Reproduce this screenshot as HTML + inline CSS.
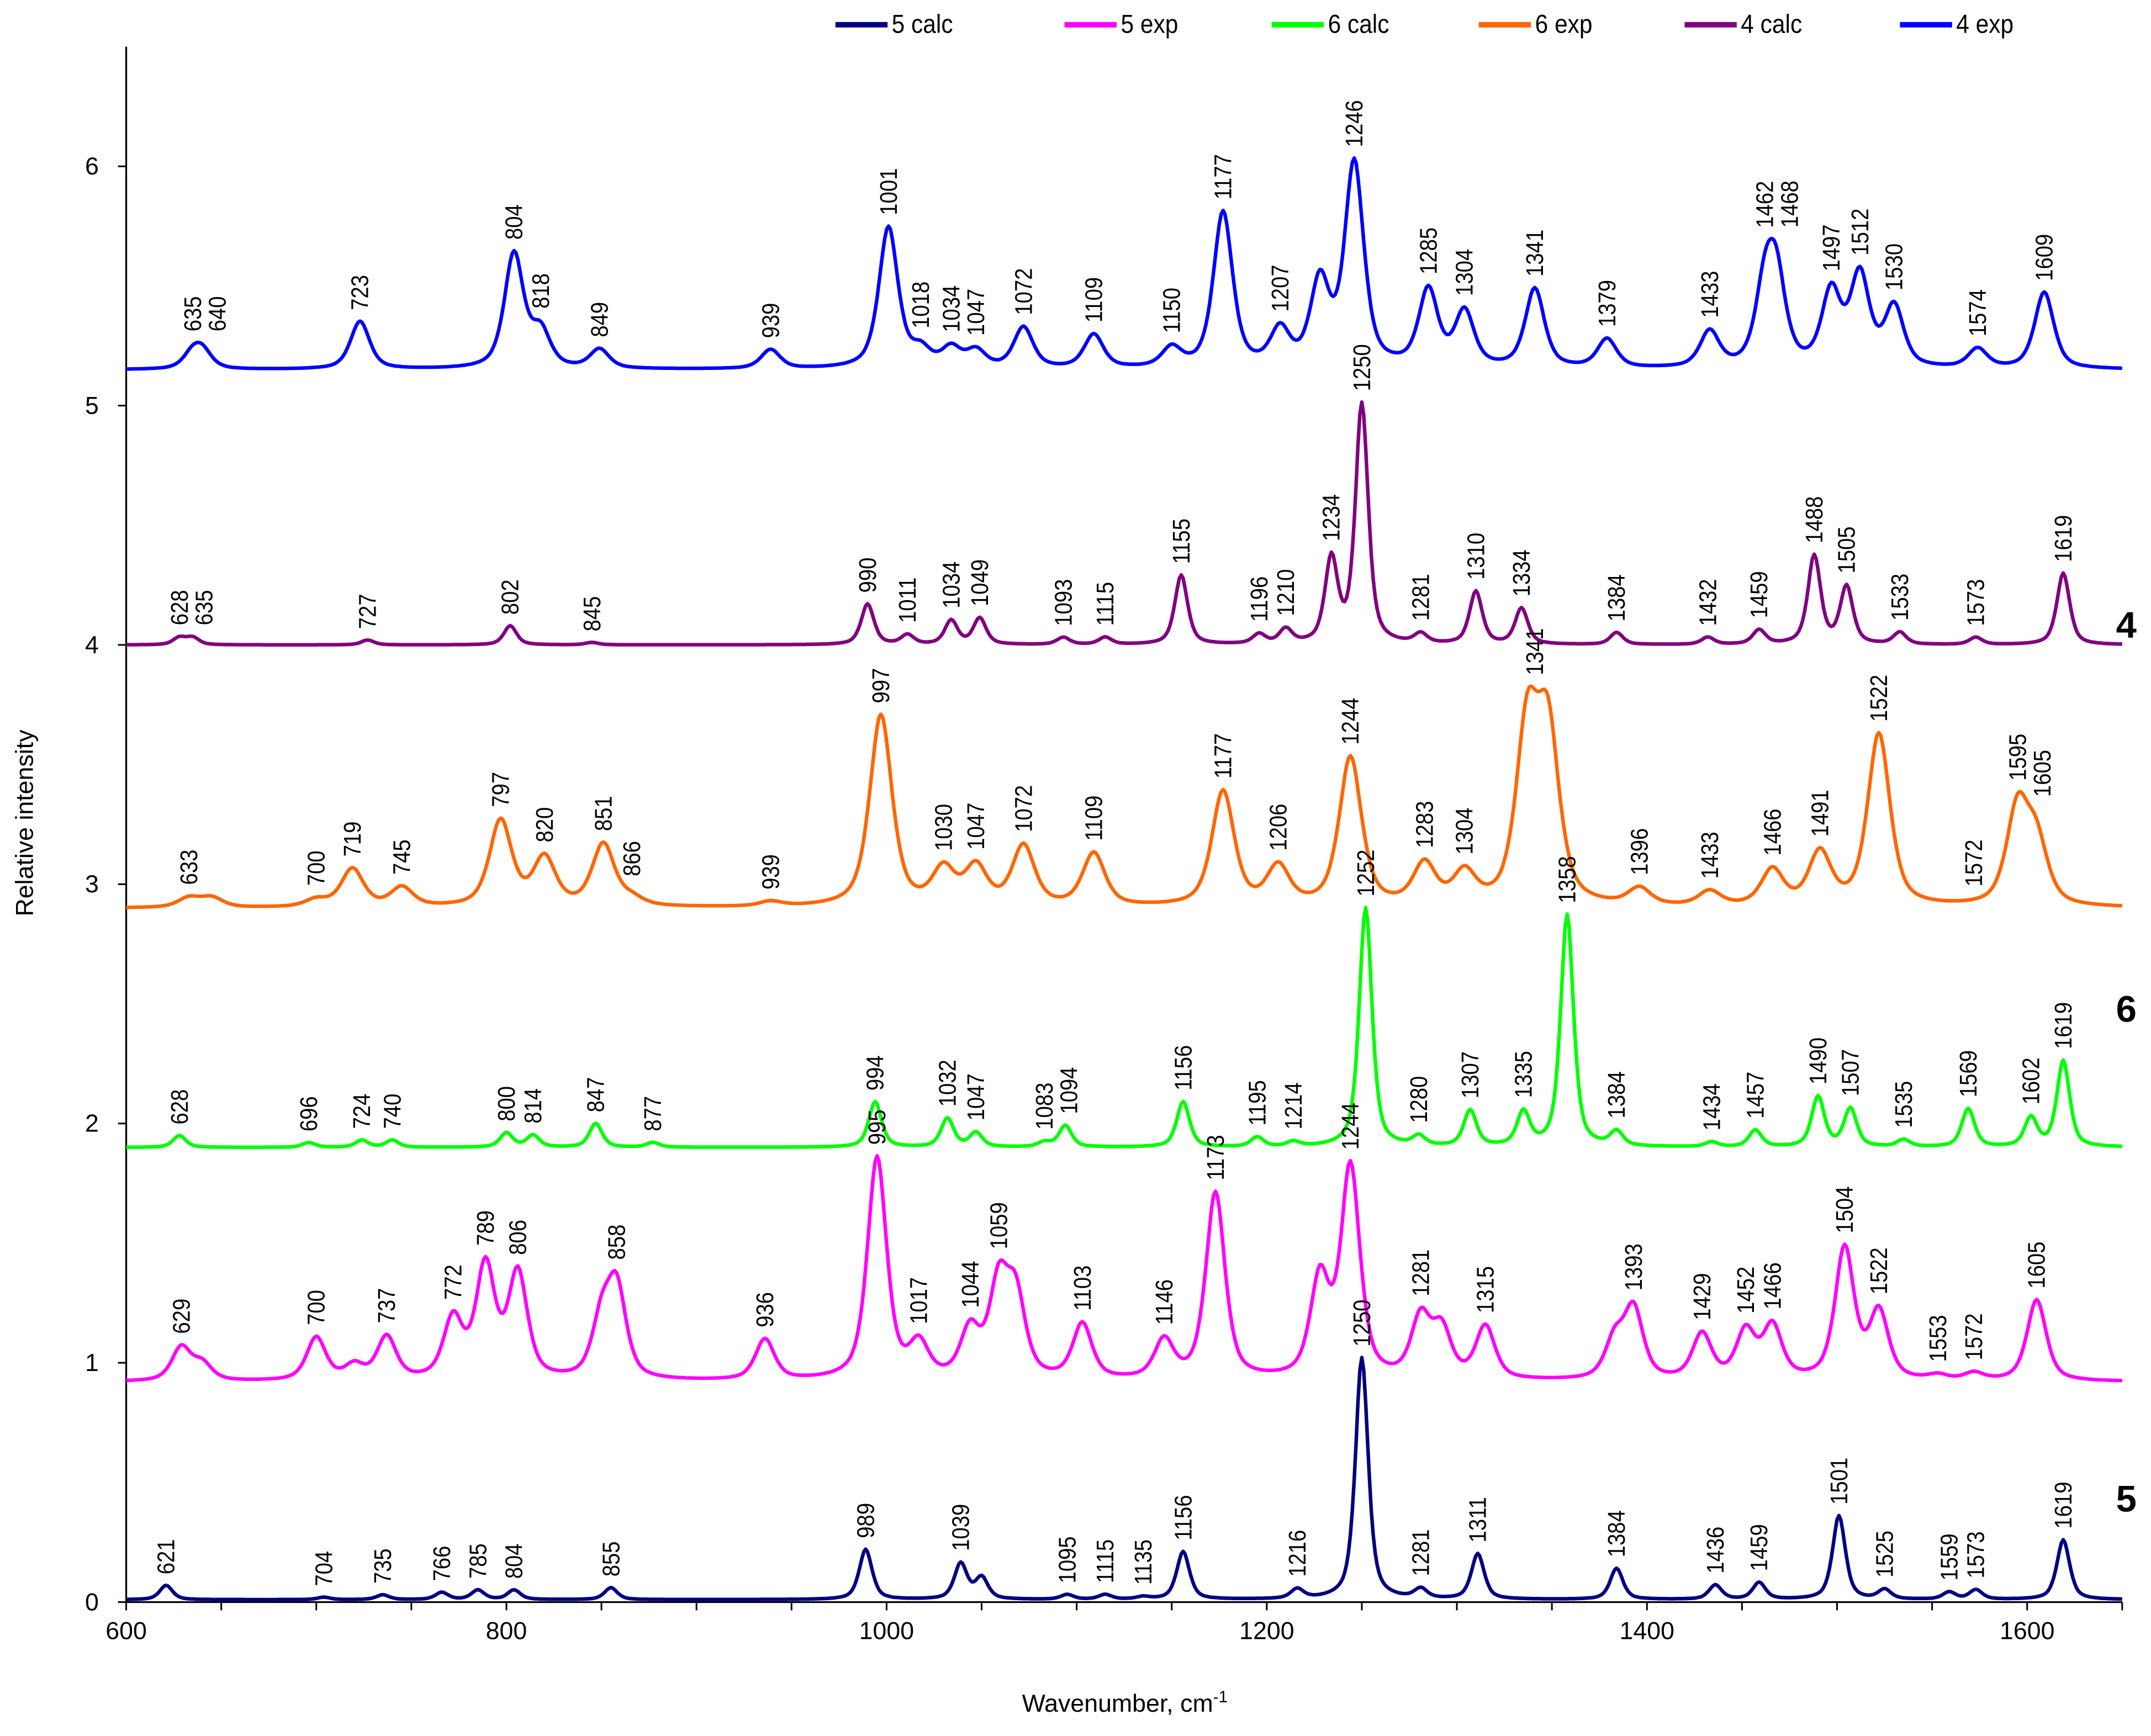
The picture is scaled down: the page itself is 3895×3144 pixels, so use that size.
<!DOCTYPE html>
<html><head><meta charset="utf-8"><style>
html,body{margin:0;padding:0;background:#fff}
svg{display:block}
text{font-family:"Liberation Sans",Arial,sans-serif;fill:#000}
</style></head><body>
<svg id="chart" width="3895" height="3144" viewBox="0 0 1568 1265.6" xmlns="http://www.w3.org/2000/svg">
<rect width="1568" height="1265.6" fill="#fff"/>
<g id="axes"></g>
<g id="series"></g>
<g id="labels"></g>
<g id="legend"></g>
<text x="1550" y="465" font-size="27" font-weight="bold" text-anchor="middle">4</text>
<text x="1550" y="745" font-size="27" font-weight="bold" text-anchor="middle">6</text>
<text x="1550" y="1102" font-size="27" font-weight="bold" text-anchor="middle">5</text>
<text x="820" y="1248" font-size="18" text-anchor="middle">Wavenumber, cm<tspan font-size="12" dy="-7">-1</tspan></text>
<text transform="translate(24,600) rotate(-90)" font-size="18" text-anchor="middle">Relative intensity</text>
</svg>
<script>
const xTicks = [600, 800, 1000, 1200, 1400, 1600];
const yTicks = [0, 1, 2, 3, 4, 5, 6];
const seriesNames = ["4 exp", "4 calc", "6 exp", "6 calc", "5 exp", "5 calc"];
const seriesColors = ["#0000ff", "#800080", "#ff6600", "#00ff00", "#ff00ff", "#000080"];
const seriesBase = [5.15, 4.0, 2.9, 1.9, 0.92, 0.01];
const seriesWidth = [6, 4, 7, 4, 6, 4];
// peak centers / heights (absolute value at peak) per series
const pos4exp = [635,640,723,804,818,849,939,1001,1018,1034,1047,1072,1109,1150,1177,1207,1228,1246,1285,1304,1341,1379,1433,1462,1468,1497,1512,1530,1574,1609];
const h4exp   = [5.21,5.22,5.35,5.63,5.3,5.23,5.23,5.74,5.22,5.23,5.22,5.32,5.29,5.23,5.8,5.3,5.5,6.0,5.47,5.38,5.48,5.27,5.3,5.45,5.5,5.46,5.53,5.4,5.23,5.47];
const pos4calc = [628,635,727,802,845,990,1011,1034,1049,1093,1115,1155,1196,1210,1234,1250,1281,1310,1334,1384,1432,1459,1488,1505,1533,1573,1619];
const h4calc   = [4.03,4.03,4.02,4.08,4.01,4.17,4.04,4.1,4.11,4.03,4.03,4.29,4.04,4.06,4.35,5.0,4.04,4.22,4.15,4.05,4.03,4.06,4.37,4.24,4.05,4.03,4.3];
const pos6exp = [633,645,700,719,745,797,820,851,866,939,997,1030,1047,1072,1109,1177,1206,1244,1283,1304,1337,1348,1396,1433,1466,1491,1522,1595,1605];
const h6exp   = [2.94,2.94,2.93,3.06,2.98,3.26,3.1,3.16,2.93,2.92,3.7,3.05,3.06,3.15,3.12,3.38,3.06,3.52,3.07,3.03,3.62,3.6,2.97,2.96,3.05,3.12,3.62,3.3,3.15];
const pos6calc = [628,696,724,740,800,814,847,877,994,1032,1047,1083,1094,1156,1195,1214,1252,1280,1307,1335,1358,1384,1434,1457,1490,1507,1535,1569,1602,1619];
const h6calc   = [1.95,1.92,1.93,1.93,1.96,1.95,2.0,1.92,2.09,2.02,1.96,1.92,1.99,2.09,1.94,1.92,2.9,1.94,2.05,2.04,2.87,1.96,1.92,1.97,2.11,2.06,1.93,2.06,2.02,2.26];
const pos5exp = [629,640,700,720,737,772,789,806,850,858,936,995,1017,1044,1059,1068,1103,1146,1173,1228,1244,1281,1292,1315,1383,1393,1429,1452,1466,1504,1522,1553,1572,1605];
const h5exp   = [1.06,0.99,1.1,0.98,1.1,1.17,1.39,1.36,1.15,1.29,1.09,1.85,1.06,1.12,1.3,1.25,1.15,1.08,1.7,1.33,1.8,1.17,1.12,1.14,1.08,1.21,1.11,1.12,1.14,1.47,1.2,0.94,0.95,1.26];
const pos5calc = [621,704,735,766,785,804,855,989,1039,1050,1095,1115,1135,1156,1216,1250,1281,1311,1384,1436,1459,1501,1525,1559,1573,1619];
const h5calc   = [0.07,0.02,0.03,0.04,0.05,0.05,0.06,0.22,0.16,0.1,0.03,0.03,0.02,0.21,0.05,1.02,0.05,0.2,0.14,0.07,0.08,0.36,0.05,0.04,0.05,0.26];
// printed labels
const lab4exp = [635,640,723,804,818,849,939,1001,1018,1034,1047,1072,1109,1150,1177,1207,1246,1285,1304,1341,1379,1433,1462,1468,1497,1512,1530,1574,1609];
const lab4calc = [628,635,727,802,845,990,1011,1034,1049,1093,1115,1155,1196,1210,1234,1250,1281,1310,1334,1384,1432,1459,1488,1505,1533,1573,1619];
const lab6exp = [633,700,719,745,797,820,851,866,939,997,1030,1047,1072,1109,1177,1206,1244,1283,1304,1341,1396,1433,1466,1491,1522,1572,1595,1605];
const lab6calc = [628,696,724,740,800,814,847,877,994,1032,1047,1083,1094,1156,1195,1214,1252,1280,1307,1335,1358,1384,1434,1457,1490,1507,1535,1569,1602,1619];
const lab5exp = [629,700,737,772,789,806,858,936,995,1017,1044,1059,1103,1146,1173,1244,1281,1315,1393,1429,1452,1466,1504,1522,1553,1572,1605];
const lab5calc = [621,704,735,766,785,804,855,989,1039,1095,1115,1135,1156,1216,1250,1281,1311,1384,1436,1459,1501,1525,1559,1573,1619];

const allPos = [pos4exp,pos4calc,pos6exp,pos6calc,pos5exp,pos5calc];
const allH = [h4exp,h4calc,h6exp,h6calc,h5exp,h5calc];
const allLab = [lab4exp,lab4calc,lab6exp,lab6calc,lab5exp,lab5calc];

const NS = "http://www.w3.org/2000/svg";
const X0 = 92, X1 = 1547, Y0 = 1168, Y1 = 34;
function xs(v){ return X0 + (v - 600) * (X1 - X0) / 1050; }
function ys(v){ return Y0 - v * (Y0 - Y1) / 6.5; }
function mk(tag, attrs, parent){ const e = document.createElementNS(NS, tag); for (const k in attrs) e.setAttribute(k, attrs[k]); parent.appendChild(e); return e; }

const axes = document.getElementById('axes');
let a = mk('line', {x1:X0, y1:Y1, x2:X0, y2:Y0, stroke:'#000', 'stroke-width':1.3}, axes);


a = mk('line', {x1:X0, y1:Y0, x2:X1, y2:Y0, stroke:'#000', 'stroke-width':1.3}, axes);


for (let v = 600; v <= 1650; v += 50) {
  const t = mk('line', {x1:xs(v), y1:Y0, x2:xs(v), y2:Y0 + 6, stroke:'#000', 'stroke-width':1.2}, axes);
  
  
}
xTicks.forEach(v => {
  const t = mk('text', {x:xs(v), y:Y0 + 27, 'font-size':18, 'text-anchor':'middle'}, axes);
  t.textContent = v;
  
  
});
yTicks.forEach(v => {
  const t = mk('line', {x1:X0 - 6, y1:ys(v), x2:X0, y2:ys(v), stroke:'#000', 'stroke-width':1.2}, axes);
  
  
  const l = mk('text', {x:X0 - 20, y:ys(v) + 6, 'font-size':18, 'text-anchor':'end'}, axes);
  l.textContent = v;
  
  
});

function curve(i, w){
  const b = seriesBase[i], hw = seriesWidth[i];
  let s = b;
  allPos[i].forEach((p, k) => {
    const amp = allH[i][k] - b;
    const d = (w - p) / hw;
    s += amp * (0.6 / (1 + d * d) + 0.4 * Math.exp(-d * d * 0.7));
  });
  return s;
}
const sg = document.getElementById('series');
const lg = document.getElementById('labels');
seriesNames.forEach((n, i) => {
  let d = '';
  for (let w = 600; w <= 1650; w += 1) d += (w === 600 ? 'M' : 'L') + xs(w).toFixed(1) + ',' + ys(curve(i, w)).toFixed(1);
  const p = mk('path', {d:d, fill:'none', stroke:seriesColors[i], 'stroke-width':2.6, 'stroke-linejoin':'round'}, sg);
  
  
  let prevX = -100;
  allLab[i].forEach(v => {
    let m = 0;
    for (let w = v - 3; w <= v + 3; w++) m = Math.max(m, curve(i, w));
    let x = xs(v) + 6;
    if (x < prevX + 18) x = prevX + 18;
    prevX = x;
    const y = ys(m) - 8;
    const t = mk('text', {transform:'translate(' + x.toFixed(1) + ',' + y.toFixed(1) + ') rotate(-90) scale(0.88,1)', 'font-size':17.5}, lg);
    t.textContent = v;
    
    
  });
});

const legendOrder = [5, 4, 3, 2, 1, 0];
const legendX = [609, 776, 927, 1078, 1228, 1385];
const lgG = document.getElementById('legend');
legendOrder.forEach((si, k) => {
  const g = mk('g', {}, lgG);
  
  
  mk('line', {x1:legendX[k], y1:18, x2:legendX[k] + 38, y2:18, stroke:seriesColors[si], 'stroke-width':4}, g);
  const t = mk('text', {transform:'translate(' + (legendX[k] + 41) + ',24) scale(0.9,1)', 'font-size':19}, g);
  t.textContent = seriesNames[si];
});
</script>
</body></html>
